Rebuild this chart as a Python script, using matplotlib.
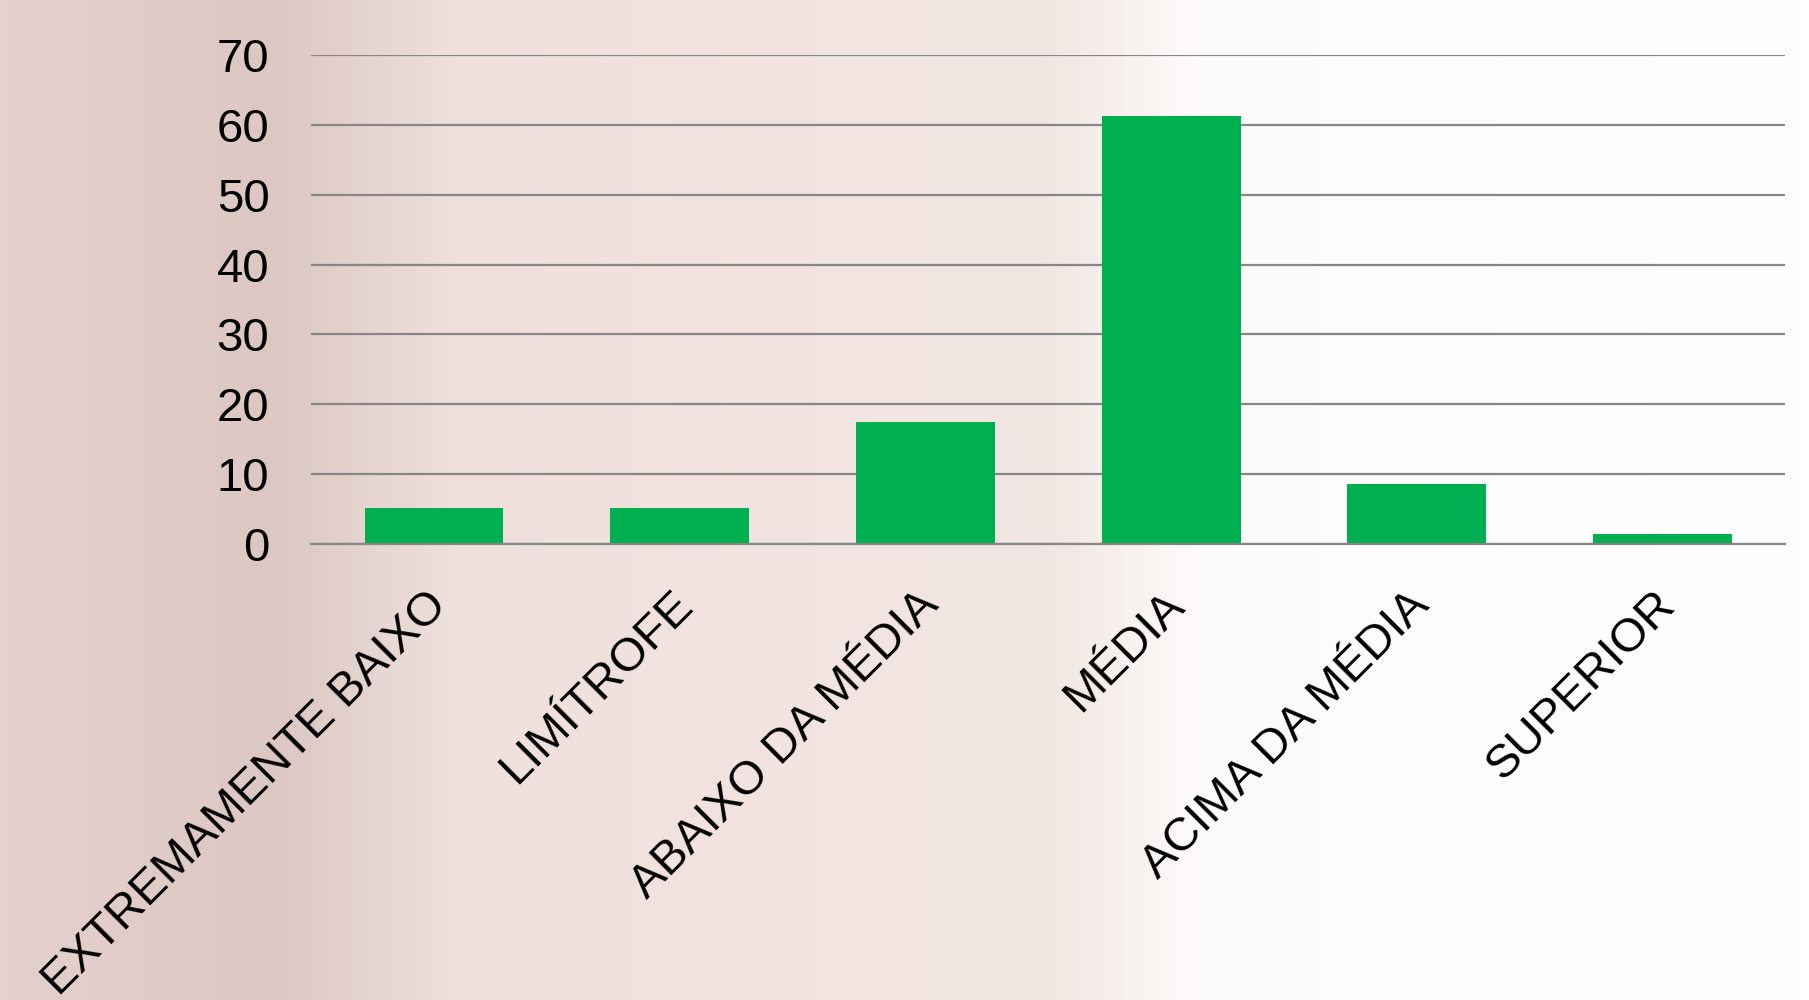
#!/usr/bin/env python3
"""Bar chart: distribution by classification (percent)."""

import matplotlib.pyplot as plt
import numpy as np
from matplotlib.colors import LinearSegmentedColormap
from matplotlib.transforms import ScaledTranslation

CATEGORIES = [
    "EXTREMAMENTE BAIXO",
    "LIMÍTROFE",
    "ABAIXO DA MÉDIA",
    "MÉDIA",
    "ACIMA DA MÉDIA",
    "SUPERIOR",
]
VALUES = [5.2, 5.2, 17.4, 61.2, 8.6, 1.4]
Y_TICKS = [0, 10, 20, 30, 40, 50, 60, 70]

BAR_COLOR = "#00B050"
GRID_COLOR = "#878787"


def draw_background(fig: plt.Figure) -> None:
    # soft pink-to-white wash, standing in for the blurred photo behind the chart
    bg = fig.add_axes([0, 0, 1, 1], zorder=-10)
    cmap = LinearSegmentedColormap.from_list(
        "wash",
        [
            (0.00, "#e6d2cd"),
            (0.15, "#dcc7c2"),
            (0.25, "#efe0dc"),
            (0.45, "#f3e4e1"),
            (0.58, "#f1e6e2"),
            (0.66, "#fdfbfa"),
            (1.00, "#ffffff"),
        ],
    )
    grad = np.linspace(0, 1, 512)[None, :]
    bg.imshow(grad, aspect="auto", cmap=cmap, extent=[0, 1, 0, 1])
    bg.set_axis_off()


def main() -> None:
    plt.rcParams["font.family"] = ["Liberation Sans", "DejaVu Sans"]

    fig = plt.figure(figsize=(18.09, 10.0), dpi=100)
    draw_background(fig)

    ax = fig.add_axes([0.172, 0.456, 0.815, 0.489])
    ax.patch.set_alpha(0.0)

    x = np.arange(len(CATEGORIES))
    ax.bar(x, VALUES, width=0.565, color=BAR_COLOR, zorder=3)

    ax.set_xlim(-0.5, len(CATEGORIES) - 0.5)
    ax.set_ylim(0, 70)
    ax.set_yticks(Y_TICKS)
    ax.yaxis.grid(True, color=GRID_COLOR, linewidth=1.6)
    ax.set_axisbelow(True)

    for side in ("top", "right", "left"):
        ax.spines[side].set_visible(False)
    ax.spines["bottom"].set_color(GRID_COLOR)
    ax.spines["bottom"].set_linewidth(1.6)
    ax.spines["bottom"].set_zorder(4)

    ax.tick_params(axis="both", length=0)
    ax.tick_params(axis="y", labelsize=34, pad=30, labelcolor="black")

    ax.set_xticks(x)
    ax.set_xticklabels(
        CATEGORIES,
        rotation=45,
        ha="right",
        va="top",
        rotation_mode="anchor",
        fontsize=34,
    )
    ax.tick_params(axis="x", pad=28)
    # nudge the slanted labels a little to the left
    shift = ScaledTranslation(-7 / 72, 0, fig.dpi_scale_trans)
    for label in ax.get_xticklabels():
        label.set_transform(label.get_transform() + shift)

    fig.savefig("out.png", dpi=100)
    plt.close(fig)


if __name__ == "__main__":
    main()
